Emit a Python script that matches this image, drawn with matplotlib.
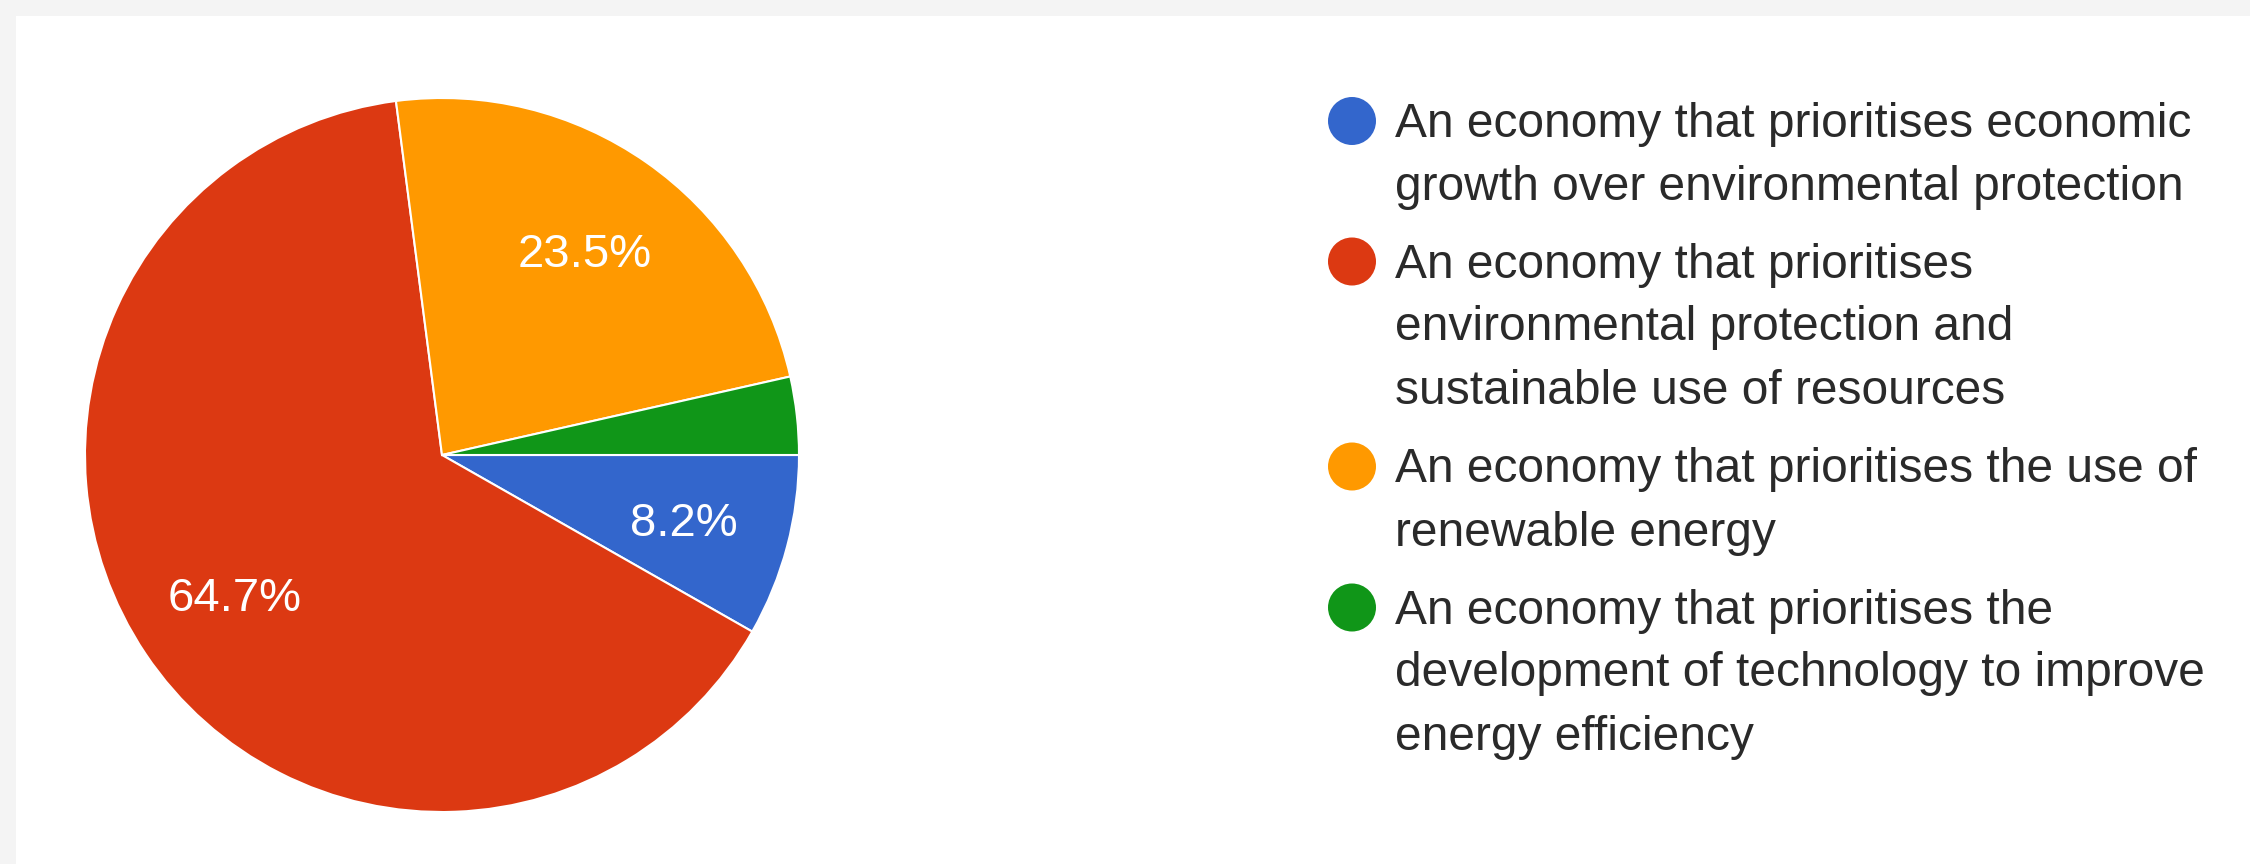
import matplotlib.pyplot as plt
from matplotlib.patches import Circle, Rectangle

plt.rcParams['font.family'] = ['Liberation Sans', 'DejaVu Sans']

# data
labels = [
    "An economy that prioritises economic\ngrowth over environmental protection",
    "An economy that prioritises\nenvironmental protection and\nsustainable use of resources",
    "An economy that prioritises the use of\nrenewable energy",
    "An economy that prioritises the\ndevelopment of technology to improve\nenergy efficiency",
]
counts = [7, 55, 20, 3]
colors = ['#3366cc', '#dc3912', '#ff9900', '#109618']

W, H = 2250, 864
fig = plt.figure(figsize=(W / 100, H / 100), dpi=100, facecolor='#f4f4f4')

# background card, pixel coordinates
bg = fig.add_axes([0, 0, 1, 1])
bg.set_xlim(0, W)
bg.set_ylim(H, 0)
bg.axis('off')
bg.add_patch(Rectangle((16, 16), W, H, facecolor='white', edgecolor='none'))

# pie
cx, cy, r = 442, 455, 357
ax = fig.add_axes([(cx - r) / W, (H - cy - r) / H, 2 * r / W, 2 * r / H])
wedges, texts, autotexts = ax.pie(counts, colors=colors, startangle=0, counterclock=False,
                                  autopct=lambda p: f"{p:.1f}%" if p > 5 else "",
                                  pctdistance=0.70, radius=1,
                                  wedgeprops=dict(edgecolor='white', linewidth=1.5),
                                  textprops=dict(color='white', fontsize=34))
for t in autotexts:
    t.set_va('center_baseline')
ax.set_xlim(-1, 1)
ax.set_ylim(-1, 1)
ax.set_aspect('equal')
ax.axis('off')

# legend
first_line = [137, 277.5, 482.5, 623.5]
line_gap = 63
for i, lab in enumerate(labels):
    y0 = first_line[i]
    bg.add_patch(Circle((1352, y0 - 16), 24, facecolor=colors[i], edgecolor='none'))
    for k, line in enumerate(lab.split('\n')):
        bg.text(1395, y0 + k * line_gap, line, fontsize=34.5, color='#2a2a2a',
                ha='left', va='baseline')

fig.savefig('out.png', dpi=100, facecolor=fig.get_facecolor())
